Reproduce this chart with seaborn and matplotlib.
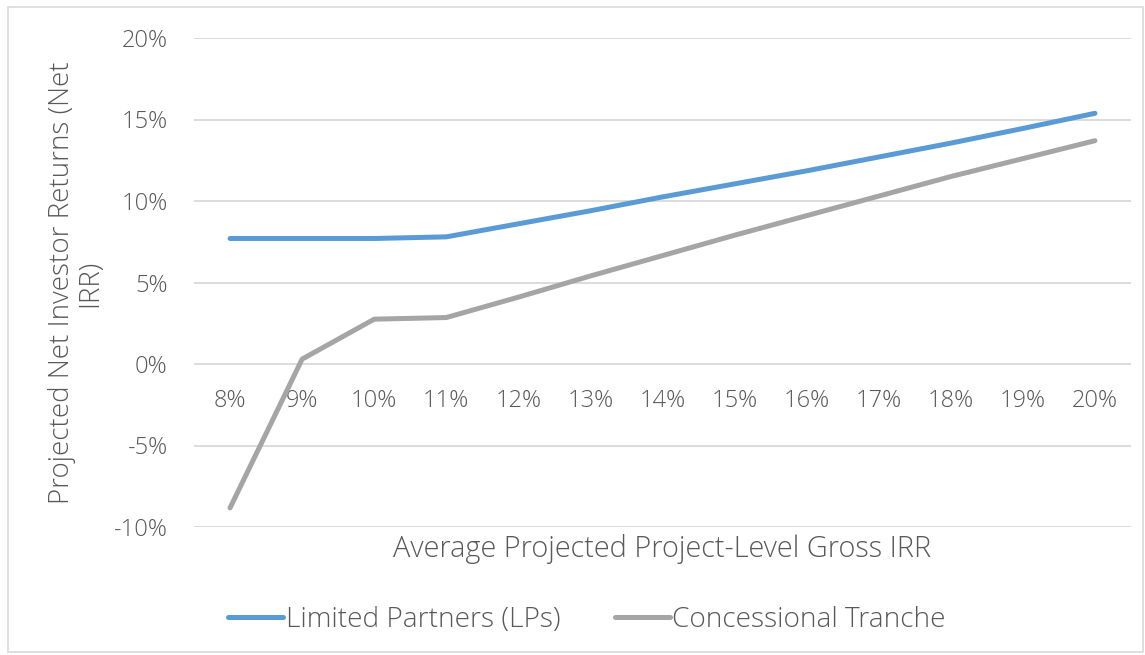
import matplotlib
matplotlib.use("Agg")
import matplotlib.pyplot as plt
import seaborn as sns
import pandas as pd
from matplotlib.patches import Rectangle

categories = ["8%", "9%", "10%", "11%", "12%", "13%", "14%", "15%", "16%", "17%", "18%", "19%", "20%"]
lp_values = [7.7, 7.7, 7.7, 7.8, 8.6, 9.4, 10.25, 11.05, 11.85, 12.7, 13.55, 14.45, 15.38]
ct_values = [-8.83, 0.3, 2.75, 2.85, 4.1, 5.4, 6.65, 7.9, 9.1, 10.3, 11.5, 12.6, 13.7]
series_names = ["Limited Partners (LPs)", "Concessional Tranche"]
y_ticks = [-10, -5, 0, 5, 10, 15, 20]
y_tick_labels = ["-10%", "-5%", "0%", "5%", "10%", "15%", "20%"]

colors = {"Limited Partners (LPs)": "#5B9BD5", "Concessional Tranche": "#A5A5A5"}

df = pd.DataFrame({
    "cat": categories * 2,
    "val": lp_values + ct_values,
    "series": [series_names[0]] * len(categories) + [series_names[1]] * len(categories),
})

sns.set_theme(style="white")
plt.rcParams["font.family"] = ["Open Sans", "DejaVu Sans"]
plt.rcParams["font.weight"] = "light"
text_color = "#595959"

W, H = 1145, 655
fig = plt.figure(figsize=(W / 100, H / 100), dpi=100)
ax = fig.add_axes([194 / W, (H - 527) / H, (1131 - 194) / W, (527 - 38) / H])

sns.lineplot(data=df, x="cat", y="val", hue="series", palette=colors, ax=ax,
             linewidth=3.6, legend=False, sort=False)
for line in ax.get_lines():
    line.set_solid_capstyle("round")
    line.set_solid_joinstyle("round")

ax.set_xlim(-0.5, len(categories) - 0.5)
ax.set_ylim(-10, 20)
ax.set_yticks(y_ticks)
ax.set_yticklabels(y_tick_labels)
ax.yaxis.grid(True, color="#D9D9D9", linewidth=1.3)
ax.set_axisbelow(True)
for s in ax.spines.values():
    s.set_visible(False)
ax.spines["bottom"].set_position(("data", 0))
ax.tick_params(axis="x", length=0, pad=18, labelsize=17, labelcolor=text_color)
ax.tick_params(axis="y", length=0, pad=19, labelsize=17, labelcolor=text_color)
ax.set_xlabel("")
ax.set_ylabel("")

fig.text(662 / W, 1 - 549 / H, "Average Projected Project-Level Gross IRR",
         ha="center", va="center", fontsize=20.8, color=text_color)
fig.text(76 / W, 1 - 283 / H, "Projected Net Investor Returns (Net\nIRR)",
         ha="center", va="center", rotation=90, fontsize=20, color=text_color,
         linespacing=1.0, multialignment="center")

handles = [plt.Line2D([], [], color=colors[n], linewidth=3.6, solid_capstyle="round") for n in series_names]
leg = fig.legend(handles, series_names, loc="center", ncol=2,
                 bbox_to_anchor=(587 / W, 1 - 620 / H), frameon=False,
                 fontsize=20.2, handlelength=1.95, handletextpad=0.1, columnspacing=1.95,
                 labelcolor=text_color)

fig.patches.append(Rectangle((8 / W, 3 / H), (W - 10) / W, (H - 10) / H,
                             transform=fig.transFigure, fill=False,
                             edgecolor="#D9D9D9", linewidth=1.2))

fig.savefig("out.png", dpi=100, facecolor="white")
